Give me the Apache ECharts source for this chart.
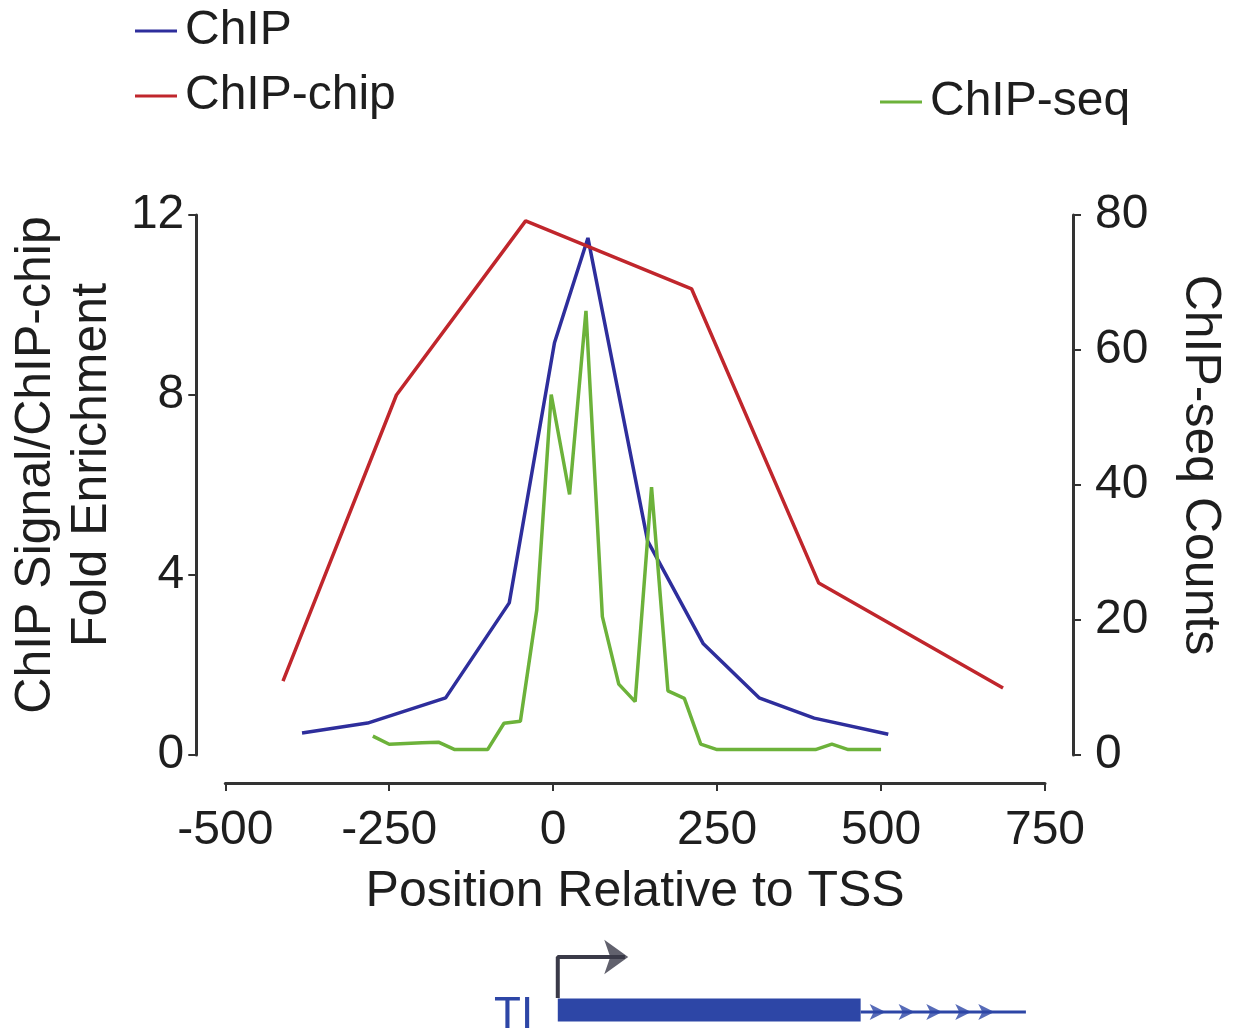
<!DOCTYPE html>
<html>
<head>
<meta charset="utf-8">
<script src="https://cdn.jsdelivr.net/npm/echarts@6/dist/echarts.min.js"></script>
<style>
  html, body { margin: 0; padding: 0; background: #fff; }
  #chart { width: 1235px; height: 1031px; }
</style>
</head>
<body>
<div id="chart"></div>
<script>
// ChIP signal (left axis)
var chipX = [-383, -283, -164, -67, 2, 53, 144, 229, 314, 398, 511];
var chipY = [0.49, 0.71, 1.27, 3.38, 9.16, 11.49, 4.76, 2.47, 1.27, 0.82, 0.46];
// ChIP-chip fold enrichment (left axis)
var chipChipX = [-412, -239, -42, 211, 405, 686];
var chipChipY = [1.64, 8.0, 11.87, 10.36, 3.82, 1.49];
// ChIP-seq counts (right axis), 25 bp steps
var seqX = [-275, -250, -225, -200, -175, -150, -125, -100, -75, -50, -25, -3, 25, 50, 75, 100, 125, 150, 175, 200, 225, 250, 275, 300, 325, 350, 375, 400, 425, 450, 475, 500];
var seqY = [2.8, 1.6, 1.7, 1.8, 1.9, 0.8, 0.8, 0.8, 4.7, 5.0, 21.5, 53.4, 38.6, 65.8, 20.5, 10.5, 7.9, 39.7, 9.5, 8.4, 1.6, 0.8, 0.8, 0.8, 0.8, 0.8, 0.8, 0.8, 1.6, 0.8, 0.8, 0.8];
var xTicks = [-500, 750, 250];
// gene model below the chart (position relative to TSS)
var exonX = [10, 470];
var intronX = [470, 721];
var chevronX = [508, 552, 594, 638, 673];
var tssArrowX = [10, 10, 112];

function pairs(xs, ys) {
    var out = [];
    for (var i = 0; i < xs.length; i++) out.push([xs[i], ys[i]]);
    return out;
}

var font = "'Liberation Sans', Arial, sans-serif";
var axisColor = '#333';
var textColor = '#1e1e1e';

var myChart = echarts.init(document.getElementById('chart'));
myChart.setOption({
    animation: false,
    backgroundColor: '#fff',
    textStyle: { fontFamily: font },
    legend: [
        { data: ['ChIP'], left: 135, top: 6 },
        { data: ['ChIP-chip'], left: 135, top: 71 },
        { data: ['ChIP-seq'], left: 880, top: 77 }
    ].map(function (l) {
        l.padding = 0;
        l.icon = 'rect';
        l.itemWidth = 42;
        l.itemHeight = 3;
        l.textStyle = { fontSize: 48, color: textColor, fontFamily: font, lineHeight: 50, padding: [0, 0, 0, 3] };
        return l;
    }),
    grid: [
        { left: 222, right: 190, top: 215, bottom: 276 },
        { left: 222, right: 190, top: 940, bottom: 1 }
    ],
    xAxis: [
        {
            type: 'value', gridIndex: 0,
            min: xTicks[0], max: xTicks[1], interval: xTicks[2],
            offset: 28,
            axisLine: { onZero: false, lineStyle: { color: axisColor, width: 3 } },
            axisTick: { length: 8, lineStyle: { color: axisColor, width: 2 } },
            axisLabel: { fontSize: 48, color: textColor, margin: 24 },
            splitLine: { show: false },
            name: 'Position Relative to TSS',
            nameLocation: 'middle',
            nameGap: 84,
            nameTextStyle: { fontSize: 50, color: textColor }
        },
        {
            type: 'value', gridIndex: 1,
            min: xTicks[0], max: xTicks[1],
            show: false
        }
    ],
    yAxis: [
        {
            type: 'value', gridIndex: 0,
            min: 0, max: 12, interval: 4,
            position: 'left',
            offset: 29,
            axisLine: { show: true, onZero: false, lineStyle: { color: axisColor, width: 3 } },
            axisTick: { show: true, length: 8, lineStyle: { color: axisColor, width: 2 } },
            axisLabel: { fontSize: 48, color: textColor, margin: 12 },
            splitLine: { show: false },
            name: 'ChIP Signal/ChIP-chip\nFold Enrichment',
            nameLocation: 'middle',
            nameGap: 55,
            nameTextStyle: { fontSize: 50, color: textColor, lineHeight: 56, padding: [0, 0, 0, 40] }
        },
        {
            type: 'value', gridIndex: 0,
            min: 0, max: 80, interval: 20,
            position: 'right',
            offset: 28,
            axisLine: { show: true, onZero: false, lineStyle: { color: axisColor, width: 3 } },
            axisTick: { show: true, length: 8, lineStyle: { color: axisColor, width: 2 } },
            axisLabel: { fontSize: 48, color: textColor, margin: 22 },
            splitLine: { show: false },
            name: 'ChIP-seq Counts',
            nameLocation: 'middle',
            nameRotate: -90,
            nameGap: 102,
            nameTextStyle: { fontSize: 50, color: textColor, padding: [0, 40, 0, 0] }
        },
        {
            type: 'value', gridIndex: 1,
            min: 0, max: 9,
            show: false
        }
    ],
    series: [
        {
            name: 'ChIP', type: 'line', xAxisIndex: 0, yAxisIndex: 0,
            data: pairs(chipX, chipY),
            showSymbol: false, color: '#2e2e9c',
            lineStyle: { width: 3.5 }
        },
        {
            name: 'ChIP-chip', type: 'line', xAxisIndex: 0, yAxisIndex: 0,
            data: pairs(chipChipX, chipChipY),
            showSymbol: false, color: '#c0262c',
            lineStyle: { width: 3.5 }
        },
        {
            name: 'ChIP-seq', type: 'line', xAxisIndex: 0, yAxisIndex: 1,
            data: pairs(seqX, seqY),
            showSymbol: false, color: '#6cb23a',
            lineStyle: { width: 3.5 }
        },
        // gene model
        {
            type: 'line', xAxisIndex: 1, yAxisIndex: 2,
            data: pairs(exonX, [2, 2]),
            showSymbol: false, color: '#2d46a6',
            lineStyle: { width: 23, cap: 'butt' }, silent: true
        },
        {
            type: 'line', xAxisIndex: 1, yAxisIndex: 2,
            data: pairs(intronX, [1.8, 1.8]),
            showSymbol: false, color: '#2d46a6',
            lineStyle: { width: 3 }, silent: true
        },
        {
            type: 'scatter', xAxisIndex: 1, yAxisIndex: 2,
            data: pairs(chevronX, chevronX.map(function () { return 1.8; })),
            symbol: 'arrow', symbolSize: [12, 16], symbolRotate: -90,
            color: '#2d46a6', silent: true
        },
        {
            type: 'line', xAxisIndex: 1, yAxisIndex: 2,
            data: pairs(tssArrowX, [3.2, 7.3, 7.3]),
            showSymbol: false, color: '#3a3a48',
            lineStyle: { width: 4 }, silent: true
        },
        {
            type: 'scatter', xAxisIndex: 1, yAxisIndex: 2,
            data: [[tssArrowX[2] + 5, 7.3]],
            symbol: 'arrow', symbolSize: [26, 24], symbolRotate: -90,
            color: '#3a3a48', silent: true
        }
    ],
    graphic: [
        {
            type: 'text', left: 494, top: 994,
            style: { text: 'TI', fontSize: 44, fill: '#2d46a6', fontFamily: font }
        }
    ]
});
</script>
</body>
</html>
